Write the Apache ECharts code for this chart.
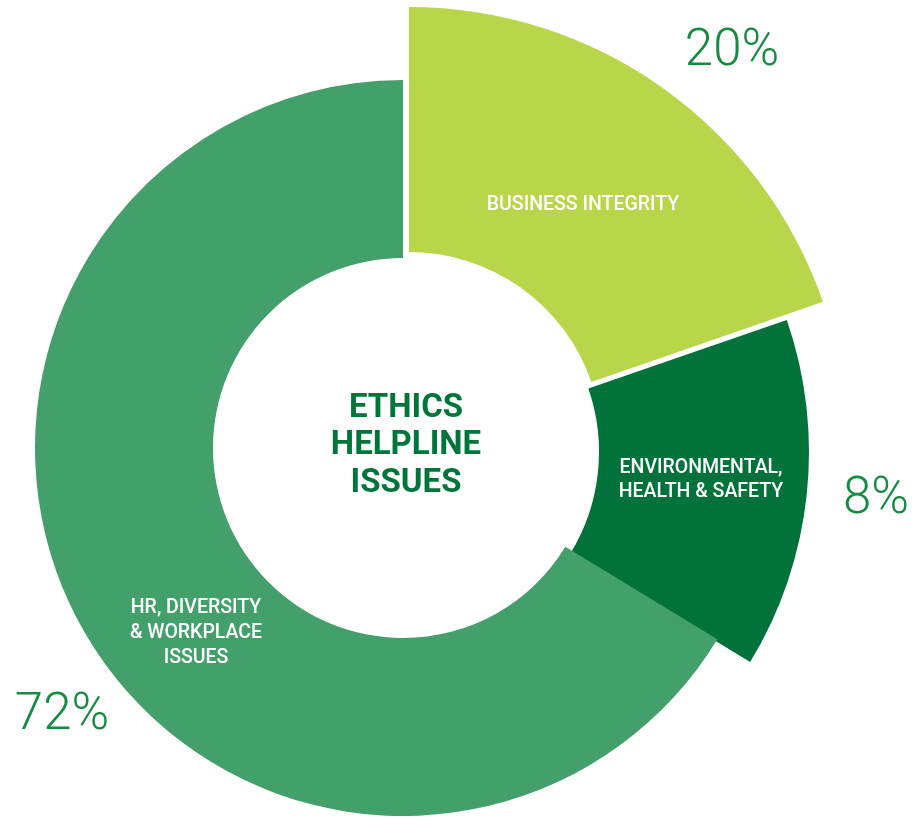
<!DOCTYPE html>
<html>
<head>
<meta charset="utf-8">
<script src="https://cdn.jsdelivr.net/npm/echarts@6/dist/echarts.min.js"></script>
<style>
html,body{margin:0;padding:0;background:#fff;}
#chart{width:919px;height:820px;}
</style>
</head>
<body>
<div id="chart"></div>
<script>
// Category names (slice labels)
const categories = ['BUSINESS INTEGRITY', 'ENVIRONMENTAL,\nHEALTH & SAFETY', 'HR, DIVERSITY\n& WORKPLACE\nISSUES'];
// Printed share labels
const shareLabels = ['20%', '8%', '72%'];
// Slice sizes as drawn in the picture (share of the full circle, %)
const sliceShares = [19.7, 14.0, 66.3];
const centerTitle = 'ETHICS\nHELPLINE\nISSUES';

const colors = ['#B9D54A', '#00723A', '#43A06B'];
const centers = [[409, 445], [405, 452], [403, 448]];
const radii = [[193, 438], [194, 404], [190, 368]];

const chart = echarts.init(document.getElementById('chart'), null, {renderer: 'canvas'});

const series = categories.map((c, i) => ({
  type: 'pie',
  silent: true,
  clockwise: true,
  startAngle: 90,
  center: centers[i],
  radius: radii[i],
  z: 2,
  label: {show: false},
  labelLine: {show: false},
  emphasis: {disabled: true},
  animation: false,
  data: sliceShares.map((v, j) => ({
    value: v,
    name: categories[j],
    itemStyle: {color: j === i ? colors[i] : 'rgba(0,0,0,0)', borderWidth: 0}
  }))
}));

const fam = 'Roboto, "Noto Sans", sans-serif';
const pctColor = '#178A43';
function txt(x, y, text, fill, size, weight, lh) {
  return {
    type: 'text', x: x, y: y, z: 100, silent: true,
    style: {
      text: text, fill: fill, fontSize: size, fontWeight: weight, fontFamily: fam,
      textAlign: 'center', textVerticalAlign: 'middle', align: 'center', verticalAlign: 'middle',
      lineHeight: lh
    }
  };
}

chart.setOption({
  backgroundColor: '#ffffff',
  animation: false,
  series: series,
  graphic: {
    elements: [
      txt(406, 446, centerTitle, '#00753A', 33, 'bold', 37.5),
      txt(583, 205, categories[0], '#ffffff', 19.5, 500, 22),
      txt(701, 480, categories[1], '#ffffff', 19.5, 500, 24),
      txt(196, 633, categories[2], '#ffffff', 19.5, 500, 25),
      txt(732, 52, shareLabels[0], pctColor, 51, 300, 54),
      txt(876, 500, shareLabels[1], pctColor, 51, 300, 54),
      txt(62, 716, shareLabels[2], pctColor, 51, 300, 54)
    ]
  }
});
</script>
</body>
</html>
